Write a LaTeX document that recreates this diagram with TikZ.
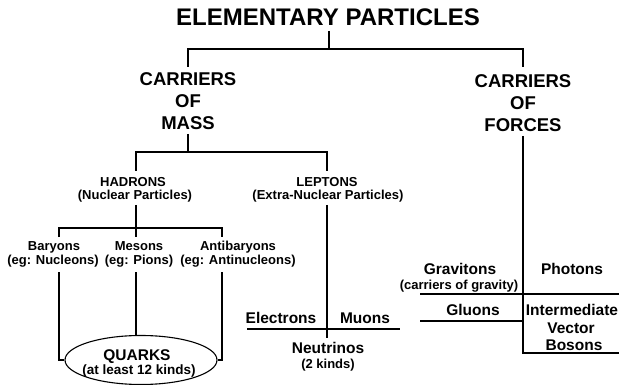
\documentclass[tikz,border=0pt]{standalone}
\usepackage{fontspec}
\setmainfont{Liberation Sans}
\usetikzlibrary{shapes.geometric}
\begin{document}
\begin{tikzpicture}[x=1pt,y=-1pt, line width=1.1pt,
 lbl/.style={inner sep=0pt, anchor=base, font=\fontsize{13}{13}\selectfont\bfseries},
 mid/.style={lbl, font=\fontsize{15.5}{15.5}\selectfont\bfseries},
 big/.style={lbl, font=\fontsize{18.5}{18.5}\selectfont\bfseries},
 ttl/.style={lbl, font=\fontsize{24}{24}\selectfont\bfseries},
 oval/.style={draw, ellipse, inner sep=0pt, minimum width=152pt, minimum height=49pt}]
\useasboundingbox (0,0) rectangle (619,385);
% title
\node[ttl] (title) at (328,26) {ELEMENTARY PARTICLES};
\coordinate (tA) at (329,31);
\coordinate (tJ) at (329,49);
\coordinate (mTop) at (188,49);
\coordinate (fTop) at (523,49);
\coordinate (mEnd) at (188,67);
\coordinate (fEnd) at (523,67);
\draw (tA) -- (tJ);
\draw (mEnd) -- (mTop) -- (fTop) -- (fEnd);
% carriers
\node[big] (m1) at (188,86) {CARRIERS};
\node[big] (m2) at (188,108) {OF};
\node[big] (m3) at (188,130) {MASS};
\node[big] (f1) at (523,88) {CARRIERS};
\node[big] (f2) at (523,110) {OF};
\node[big] (f3) at (523,132) {FORCES};
% mass branch
\coordinate (mS) at (188,134);
\coordinate (mJ) at (188,152);
\coordinate (hTop) at (136,152);
\coordinate (lTop) at (327,152);
\coordinate (hEnd) at (136,171);
\coordinate (lEnd) at (327,171);
\draw (mS) -- (mJ);
\draw (hEnd) -- (hTop) -- (lTop) -- (lEnd);
\node[lbl] (had) at (133,186) {HADRONS};
\node[lbl] (hadp) at (135,199.5) {(Nuclear Particles)};
\node[lbl] (lep) at (327,187) {LEPTONS};
\node[lbl] (lepp) at (328,199.5) {(Extra-Nuclear Particles)};
% hadrons
\coordinate (hS) at (136,205);
\coordinate (hJ) at (136,228);
\coordinate (bT) at (59,228);
\coordinate (aT) at (222,228);
\coordinate (bE) at (59,237);
\coordinate (meE) at (136,237);
\coordinate (aE) at (222,237);
\draw (hS) -- (hJ) -- (meE);
\draw (bE) -- (bT) -- (aT) -- (aE);
\node[lbl] (bar) at (54,251) {Baryons};
\node[lbl] (mes) at (139,251) {Mesons};
\node[lbl] (anti) at (238,251) {Antibaryons};
\node[lbl] (barp) at (53,264.5) {(eg: Nucleons)};
\node[lbl] (mesp) at (139,264.5) {(eg: Pions)};
\node[lbl] (antip) at (238,264.5) {(eg: Antinucleons)};
% quarks
\node[oval] (qk) at (141,360) {};
\node[mid] (qk1) at (137,360) {QUARKS};
\node[lbl, font=\fontsize{13.5}{13.5}\selectfont\bfseries] (qk2) at (139,374) {(at least 12 kinds)};
\coordinate (bS) at (59,272);
\coordinate (meS) at (136,272);
\coordinate (aS) at (222,272);
\draw (bS) |- (qk.west);
\draw (aS) |- (qk.east);
\draw (meS) -- (meS |- qk.north);
% leptons
\coordinate (lS) at (327,205);
\coordinate (lB) at (327,338);
\coordinate (eL) at (247,329);
\coordinate (eR) at (400,329);
\draw (lS) -- (lB);
\draw (eL) -- (eR);
\node[mid] (el) at (281,323) {Electrons};
\node[mid] (mu) at (365,323) {Muons};
\node[mid] (nu) at (328,353) {Neutrinos};
\node[lbl] (nup) at (328,368) {(2 kinds)};
% forces
\coordinate (fS) at (523,136);
\coordinate (fB) at (523,353);
\coordinate (fR) at (619,353);
\coordinate (gL) at (420,294);
\coordinate (gR) at (619,294);
\coordinate (uL) at (420,321);
\coordinate (uR) at (523,321);
\draw (fS) -- (fB) -- (fR);
\draw (gL) -- (gR);
\draw (uL) -- (uR);
\node[mid] (gr) at (460,274) {Gravitons};
\node[lbl] (grp) at (459,289) {(carriers of gravity)};
\node[mid] (ph) at (572,274) {Photons};
\node[mid] (gl) at (473,315) {Gluons};
\node[mid] (iv1) at (572,315) {Intermediate};
\node[mid] (iv2) at (571,333) {Vector};
\node[mid] (iv3) at (574,350) {Bosons};
\end{tikzpicture}
\end{document}
